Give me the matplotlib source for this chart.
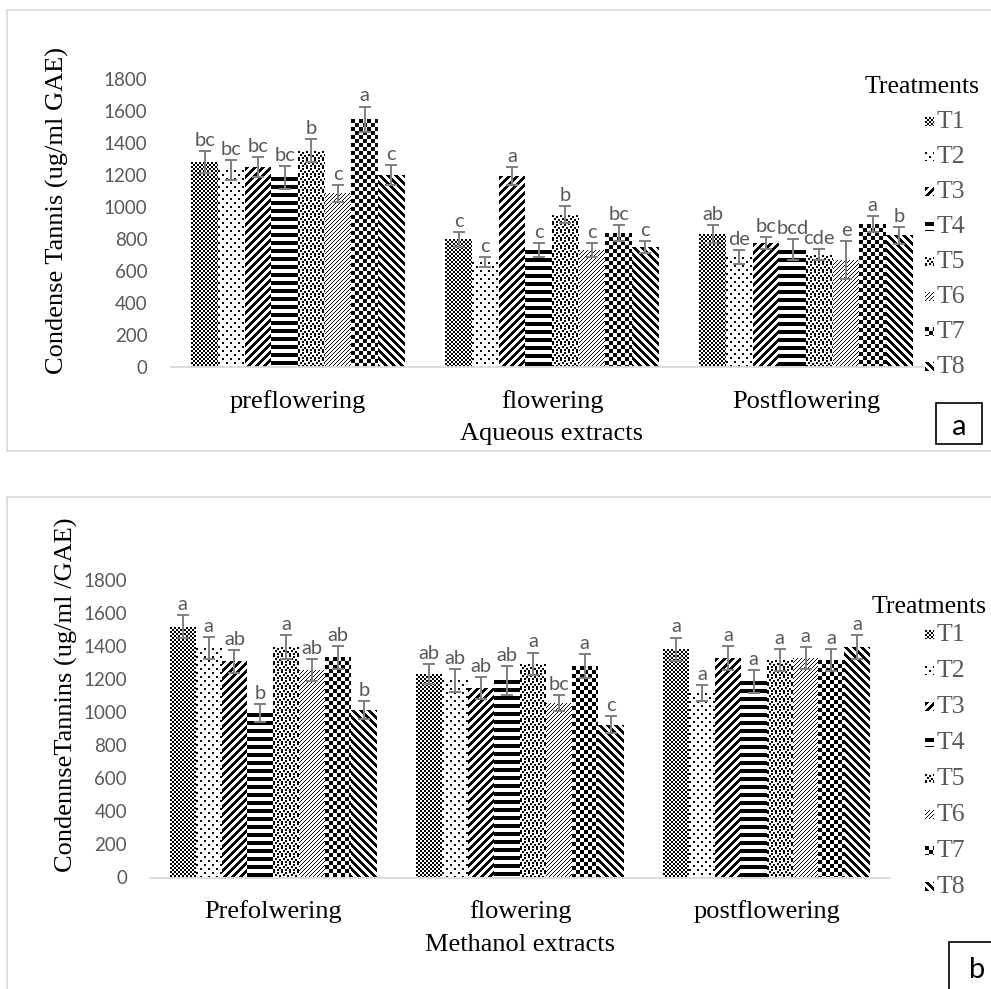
import numpy as np
import matplotlib
matplotlib.use('Agg')
import matplotlib.pyplot as plt
from matplotlib.patches import Rectangle
from matplotlib.lines import Line2D

W, H = 991, 989

treatments = ['T1', 'T2', 'T3', 'T4', 'T5', 'T6', 'T7', 'T8']

# Aqueous extracts (panel a)
aq_stages = ['preflowering', 'flowering', 'Postflowering']
aq_pre = [1279, 1232, 1248, 1186, 1352, 1086, 1549, 1200]
aq_pre_err = [69, 62, 62, 71, 73, 54, 79, 63]
aq_pre_letters = ['bc', 'bc', 'bc', 'bc', 'b', 'c', 'a', 'c']
aq_flow = [797, 656, 1196, 729, 953, 729, 837, 750]
aq_flow_err = [46, 31, 56, 44, 52, 44, 48, 35]
aq_flow_letters = ['c', 'c', 'a', 'c', 'b', 'c', 'bc', 'c']
aq_post = [829, 687, 774, 733, 702, 667, 891, 822]
aq_post_err = [56, 42, 38, 66, 33, 120, 50, 52]
aq_post_letters = ['ab', 'de', 'bc', 'bcd', 'cde', 'e', 'a', 'b']

# Methanol extracts (panel b)
me_stages = ['Prefolwering', 'flowering', 'postflowering']
me_pre = [1518, 1388, 1307, 995, 1394, 1257, 1333, 1011]
me_pre_err = [71, 66, 71, 54, 74, 66, 69, 54]
me_pre_letters = ['a', 'a', 'ab', 'b', 'a', 'ab', 'ab', 'b']
me_flow = [1233, 1192, 1146, 1192, 1293, 1056, 1281, 924]
me_flow_err = [60, 69, 67, 85, 68, 50, 72, 51]
me_flow_letters = ['ab', 'ab', 'ab', 'ab', 'a', 'bc', 'a', 'c']
me_post = [1382, 1116, 1327, 1186, 1317, 1327, 1317, 1394]
me_post_err = [70, 50, 71, 71, 65, 67, 65, 74]
me_post_letters = ['a', 'a', 'a', 'a', 'a', 'a', 'a', 'a']

SERIF = 'Liberation Serif'
SANS = 'Lato'
GREY_TXT = '#595959'
SERIF_SIZE = 19


def fx(x):
    return x / W


def fy(y):
    return 1 - y / H


def make_tiles():
    # black/white pixel tiles, one per treatment (1 = black)
    yy, xx = np.mgrid[0:8, 0:8]
    t1 = ((xx // 2 + yy // 2) % 2 == 0)
    t2 = np.zeros((8, 8), bool)
    t2[0:2, 0:2] = True
    t2[4:6, 4:6] = True
    t3 = (xx + yy) % 8 < 4
    t4 = yy % 8 < 4
    t5 = np.zeros((8, 8), bool)
    for r, c in [(0, 0), (1, 4), (3, 2), (4, 6), (6, 0), (6, 4)]:
        t5[r:r + 2, c:c + 2] = True
    t6 = (xx + yy) % 4 == 0
    t7 = ((xx // 4 + yy // 4) % 2 == 0)
    t8 = (xx - yy) % 8 < 4
    return [t.astype(float) for t in (t1, t2, t3, t4, t5, t6, t7, t8)]


TILES = make_tiles()


def tiled(tile, h, w):
    return np.tile(tile, (h // tile.shape[0] + 1, w // tile.shape[1] + 1))[:h, :w]


def fill_bar(fig, bar, tile):
    # paint the bar's pixel box with the pattern, one array cell per pixel
    ext = bar.get_window_extent()
    x0, x1 = int(round(ext.x0)), int(round(ext.x1))
    y0, y1 = int(round(ext.y0)), int(round(ext.y1))
    w, h = max(x1 - x0, 1), max(y1 - y0, 1)
    fig.figimage(1 - tiled(tile, h, w), xo=x0, yo=y0, cmap='gray',
                 vmin=0, vmax=1, origin='upper', zorder=-1)


def draw_panel(fig, rect, stages, means, errs, letters, ylabel, ylabel_xy,
               xlabel, xlabel_xy, ytick_pad, leg_title_xy, leg_y0, leg_dy):
    ax = fig.add_axes(rect)
    means = np.array(means, dtype=float)   # shape (stage, treatment)
    errs = np.array(errs, dtype=float)
    x = np.arange(len(stages))
    width = 0.105
    ax.set_xlim(-0.5, len(stages) - 0.5)
    ax.set_ylim(0, 1800)
    for i in range(len(treatments)):
        xs = x + (i - 3.5) * width
        bars = ax.bar(xs, means[:, i], width, color='none', edgecolor='none',
                      linewidth=0, zorder=1)
        for b in bars:
            fill_bar(fig, b, TILES[i])
        ax.errorbar(xs, means[:, i], yerr=errs[:, i], fmt='none', ecolor='#7f7f7f',
                    elinewidth=1.4, capsize=4, capthick=1.4, zorder=3)
        for j in range(len(stages)):
            ax.annotate(letters[j][i], (xs[j], means[j, i] + errs[j, i]),
                        xytext=(0, 1.5), textcoords='offset points',
                        ha='center', va='bottom', fontsize=14.5,
                        family=SANS, color=GREY_TXT, zorder=4)

    ax.set_yticks(np.arange(0, 1801, 200))
    ax.set_xticks(x)
    ax.set_xticklabels(stages, family=SERIF, fontsize=SERIF_SIZE, color='black')
    for lab in ax.get_yticklabels():
        lab.set_family(SANS)
        lab.set_fontsize(13.5)
        lab.set_color(GREY_TXT)
    ax.tick_params(axis='y', length=0, pad=ytick_pad)
    ax.tick_params(axis='x', length=0, pad=16.5)
    for side in ('left', 'top', 'right'):
        ax.spines[side].set_visible(False)
    ax.spines['bottom'].set_color('#d9d9d9')
    ax.spines['bottom'].set_linewidth(1.3)
    ax.set_facecolor('none')

    fig.text(fx(ylabel_xy[0]), fy(ylabel_xy[1]), ylabel, rotation=90,
             ha='center', va='center', family=SERIF, fontsize=SERIF_SIZE)
    fig.text(fx(xlabel_xy[0]), fy(xlabel_xy[1]), xlabel,
             ha='center', va='center', family=SERIF, fontsize=SERIF_SIZE)

    # legend drawn by hand: title, pixel-pattern swatch, grey label
    fig.text(fx(leg_title_xy[0]), fy(leg_title_xy[1]), 'Treatments',
             ha='left', va='center', family=SERIF, fontsize=SERIF_SIZE - 0.5)
    for i, name in enumerate(treatments):
        yc = leg_y0 + i * leg_dy
        fig.figimage(1 - tiled(TILES[i], 9, 9), xo=925, yo=int(H - yc - 4),
                     cmap='gray', vmin=0, vmax=1, origin='upper', zorder=5)
        fig.text(fx(937), fy(yc), name, ha='left', va='center',
                 family=SERIF, fontsize=SERIF_SIZE - 0.5, color=GREY_TXT)
    return ax


fig = plt.figure(figsize=(W / 100, H / 100), dpi=100)
fig.patch.set_facecolor('white')

draw_panel(fig, [fx(171), fy(367), 762 / W, 288 / H], aq_stages,
           [aq_pre, aq_flow, aq_post], [aq_pre_err, aq_flow_err, aq_post_err],
           [aq_pre_letters, aq_flow_letters, aq_post_letters],
           'Condense Tannis (ug/ml GAE)', (57, 210),
           'Aqueous extracts', (552, 434), 17, (865, 87), 122, 35)

draw_panel(fig, [fx(150), fy(877.5), 740 / W, 297.5 / H], me_stages,
           [me_pre, me_flow, me_post], [me_pre_err, me_flow_err, me_post_err],
           [me_pre_letters, me_flow_letters, me_post_letters],
           'CondennseTannins (ug/ml /GAE)', (66, 695),
           'Methanol extracts', (520, 945), 16.5, (872, 607), 635, 36)

# light grey chart-area frames
frame = dict(color='#d9d9d9', lw=1.2, transform=fig.transFigure)
fig.add_artist(Line2D([fx(7), fx(7)], [fy(10), fy(451)], **frame))
fig.add_artist(Line2D([fx(7), 1], [fy(10), fy(10)], **frame))
fig.add_artist(Line2D([fx(7), 1], [fy(451), fy(451)], **frame))
fig.add_artist(Line2D([fx(7), fx(7)], [fy(497), 0], **frame))
fig.add_artist(Line2D([fx(7), 1], [fy(497), fy(497)], **frame))

# panel tags
fig.add_artist(Rectangle((fx(936), fy(444)), 46 / W, 41 / H, fill=False,
                         edgecolor='black', lw=1.2, transform=fig.transFigure))
fig.text(fx(959), fy(427), 'a', ha='center', va='center', family=SANS, fontsize=21)
fig.add_artist(Rectangle((fx(949), fy(1000)), 60 / W, 58 / H, fill=False,
                         edgecolor='black', lw=1.2, transform=fig.transFigure))
fig.text(fx(977), fy(970), 'b', ha='center', va='center', family=SANS, fontsize=21)

fig.savefig('out.png', dpi=100, facecolor='white')
